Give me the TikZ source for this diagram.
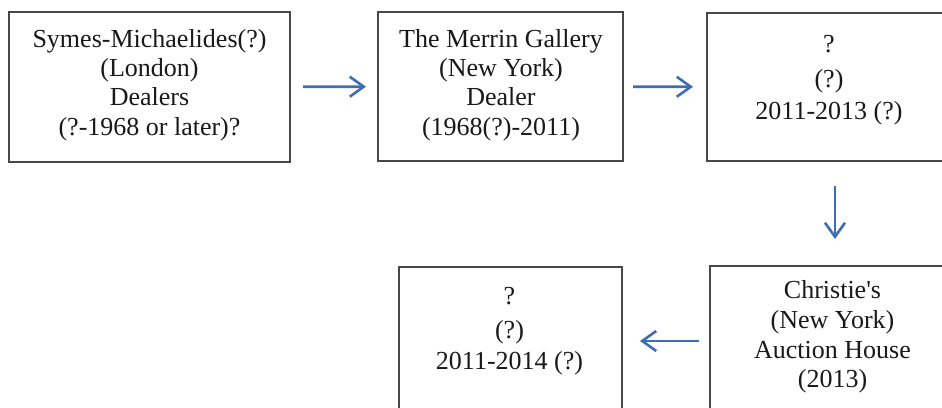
\documentclass[tikz,border=0pt]{standalone}
\usepackage{fontspec}
\setmainfont{Liberation Serif}[Ligatures=TeXOff]
\usetikzlibrary{arrows.meta}
\definecolor{arrowblue}{HTML}{3F6DB3}
\definecolor{boxgray}{HTML}{4A4646}
\tikzset{
  boxnode/.style={draw=boxgray, line width=2pt, rectangle, inner sep=0pt, fill=none},
  txtnode/.style={inner sep=0pt, align=center, text=black!90},
  arr/.style={draw=arrowblue, line width=2.6pt, -{Straight Barb[length=14pt,width=20pt]}},
}
\begin{document}
\begin{tikzpicture}[x=1pt,y=-1pt]
\useasboundingbox (0,0) rectangle (942,407);
\clip (0,0) rectangle (942,407);
\fill[white] (0,0) rectangle (942,407);
% boxes
\node[boxnode, minimum width=281pt, minimum height=150pt] (b1) at (149.5,87) {};
\node[boxnode, minimum width=245pt, minimum height=149pt] (b2) at (500.5,86.5) {};
\node[boxnode, minimum width=256pt, minimum height=148pt] (b3) at (835,87) {};
\node[boxnode, minimum width=223pt, minimum height=148pt] (b4) at (510.5,341) {};
\node[boxnode, minimum width=250pt, minimum height=150pt] (b5) at (835,341) {};
% texts
\node[txtnode, font=\fontsize{26}{29.3}\selectfont] (t1) at (149.5,85)
  {Symes-Michaelides(?)\\(London)\\Dealers\\(?-1968 or later)?};
\node[txtnode, font=\fontsize{26}{29.3}\selectfont] (t2) at (501,85)
  {The Merrin Gallery\\(New York)\\Dealer\\(1968(?)-2011)};
\node[txtnode, font=\fontsize{26}{28}\selectfont] (t3) at (829,80)
  {?\\[7pt](?)\\[4pt]2011-2013 (?)};
\node[txtnode, font=\fontsize{26}{28}\selectfont] (t4) at (509.5,331)
  {?\\[6pt](?)\\[3pt]2011-2014 (?)};
\node[txtnode, font=\fontsize{26}{29.7}\selectfont] (t5) at (832.5,337)
  {Christie's\\(New York)\\Auction House\\(2013)};
% connectors
\draw[arr, shorten <=12pt, shorten >=11pt] (b1) -- (b2);
\draw[arr, shorten <=9pt, shorten >=13pt] (b2) -- (b3);
\draw[arr, shorten <=24pt, shorten >=26pt] (b3) -- (b5);
\draw[arr, shorten <=10pt, shorten >=17pt] (b5) -- (b4);
\end{tikzpicture}
\end{document}
